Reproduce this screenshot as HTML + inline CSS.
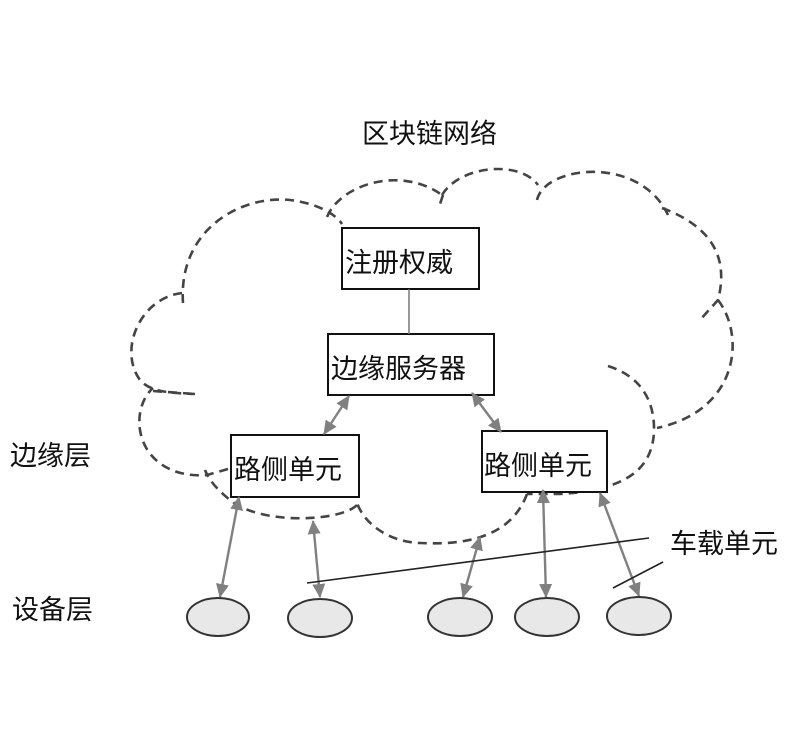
<!DOCTYPE html>
<html>
<head>
<meta charset="utf-8">
<style>
html,body{margin:0;padding:0;background:#fff;}
svg{display:block;}
text{font-family:"Liberation Sans","WenQuanYi Zen Hei","Noto Sans CJK SC",sans-serif;font-size:27px;fill:#111;dominant-baseline:central;}
</style>
</head>
<body>
<svg width="789" height="742" viewBox="0 0 789 742" xmlns="http://www.w3.org/2000/svg">
<defs>
<marker id="ah" viewBox="0 0 14 13" refX="13" refY="6.5" markerWidth="14" markerHeight="13" markerUnits="userSpaceOnUse" orient="auto-start-reverse">
<path d="M0,0 L14,6.5 L0,13 z" fill="#808080"/>
</marker>
</defs>
<rect width="789" height="742" fill="#fff"/>

<!-- cloud -->
<g fill="none" stroke="#444" stroke-width="2.6" stroke-dasharray="9 6" stroke-linecap="butt">
<path d="M183,303 C178,230 240,195 290,200 C315,203 335,213 342,224"/>
<path d="M327,217 C340,185 400,165 442,195"/>
<path d="M443,195 L439,207"/>
<path d="M442,195 C460,165 520,160 538,185"/>
<path d="M537,200 C545,165 640,155 668,215"/>
<path d="M662,208 Q735,235 718,300 L700,320"/>
<path d="M718,300 C745,335 740,410 657,428"/>
<path d="M608,366 C640,376 655,400 654,432 C652,470 625,490 560,494 L527,494"/>
<path d="M527,494 C510,540 460,545 420,543 C390,542 365,525 357,503"/>
<path d="M357,505 C340,522 260,525 230,500 C215,488 208,478 205,470"/>
<path d="M228,469 L207,475 C175,478 145,462 140,430 C137,410 145,395 153,388"/>
<path d="M153,391 L195,394"/>
<path d="M182,293 C140,298 118,350 140,380 C150,392 170,393 195,394"/>
</g>

<!-- boxes -->
<g fill="#fff" stroke="#111" stroke-width="2">
<rect x="342" y="228" width="137" height="61"/>
<rect x="328" y="334" width="166" height="61"/>
<rect x="231" y="435" width="128" height="62"/>
<rect x="482" y="431" width="125" height="61"/>
</g>
<line x1="409" y1="289" x2="409" y2="334" stroke="#777" stroke-width="1.5"/>

<!-- arrows -->
<g stroke="#808080" stroke-width="2.4" fill="none" marker-start="url(#ah)" marker-end="url(#ah)">
<line x1="349" y1="396" x2="324" y2="434"/>
<line x1="472" y1="393" x2="501" y2="432"/>
<line x1="239" y1="497" x2="220" y2="597"/>
<line x1="313" y1="521" x2="320" y2="597"/>
<line x1="480" y1="537" x2="463" y2="597"/>
<line x1="543" y1="490" x2="546" y2="597"/>
<line x1="600" y1="493" x2="639" y2="596"/>
</g>

<!-- leader lines -->
<g stroke="#222" stroke-width="1.6">
<line x1="307" y1="583" x2="649" y2="538"/>
<line x1="613" y1="588" x2="663" y2="562"/>
</g>

<!-- ellipses -->
<g fill="#e8e8e8" stroke="#333" stroke-width="2">
<ellipse cx="218" cy="617" rx="31" ry="19"/>
<ellipse cx="320" cy="618" rx="32" ry="19"/>
<ellipse cx="460" cy="617" rx="32" ry="19"/>
<ellipse cx="547" cy="617" rx="32" ry="19"/>
<ellipse cx="639" cy="616" rx="32" ry="19"/>
</g>

<!-- text -->
<text x="362" y="134">区块链网络</text>
<text x="345" y="263">注册权威</text>
<text x="331" y="369">边缘服务器</text>
<text x="234" y="470">路侧单元</text>
<text x="484" y="466">路侧单元</text>
<text x="10" y="456">边缘层</text>
<text x="12" y="610">设备层</text>
<text x="670" y="544">车载单元</text>
</svg>
</body>
</html>
